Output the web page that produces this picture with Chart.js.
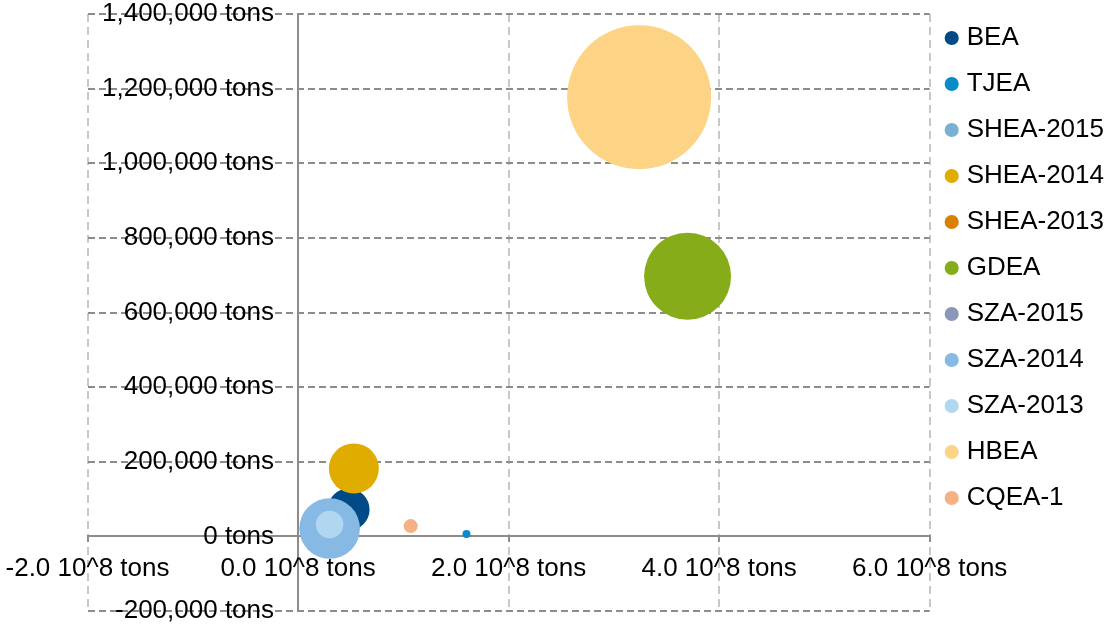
<!DOCTYPE html>
<html>
<head>
<meta charset="utf-8">
<script src="https://cdn.jsdelivr.net/npm/chart.js@4/dist/chart.umd.min.js"></script>
<style>
  html, body { margin: 0; padding: 0; background: #ffffff; }
  #wrap { width: 1108px; height: 624px; }
</style>
</head>
<body>
<div id="wrap"><canvas id="chart"></canvas></div>
<script>
// Series, in legend order
const seriesNames = ['BEA', 'TJEA', 'SHEA-2015', 'SHEA-2014', 'SHEA-2013', 'GDEA',
                     'SZA-2015', 'SZA-2014', 'SZA-2013', 'HBEA', 'CQEA-1'];
// x in 10^8 tons, y in tons; series without a value have no bubble
const xValues = [0.48, 1.6, null, 0.53, null, 3.7, null, 0.3, 0.3, 3.24, 1.07];
const yValues = [72000, 6200, null, 182000, null, 697000, null, 21000, 32000, 1177000, 27600];
// bubble size value (area)
const sizeValues = [441, 16, null, 625, null, 1892, null, 918, 188, 5184, 49];
const seriesColors = ['#004b87', '#0a8ac8', '#7bafd4', '#e0ac00', '#d98000', '#87ac1a',
                      '#8a97b8', '#86b9e3', '#b1d7f0', '#fdd385', '#f5b184'];

// axis ticks
const xTickValues = [-2, 0, 2, 4, 6];
const xTickLabels = ['-2.0 10^8 tons', '0.0 10^8 tons', '2.0 10^8 tons', '4.0 10^8 tons', '6.0 10^8 tons'];
const yTickValues = [-200000, 0, 200000, 400000, 600000, 800000, 1000000, 1200000, 1400000];
const yTickLabels = ['-200,000 tons', '0 tons', '200,000 tons', '400,000 tons', '600,000 tons',
                     '800,000 tons', '1,000,000 tons', '1,200,000 tons', '1,400,000 tons'];

// later series are painted on top of earlier ones
const datasets = seriesNames.map((name, i) => ({
  label: name,
  data: xValues[i] === null ? [] : [{ x: xValues[i], y: yValues[i], r: Math.sqrt(sizeValues[i]) }],
  backgroundColor: seriesColors[i],
  borderColor: seriesColors[i],
  borderWidth: 0,
  hoverBorderWidth: 0,
  order: seriesNames.length - i
}));

const AXIS_GREY = '#8c8c8c';
const isZero = (ctx) => ctx.tick && ctx.tick.value === 0;

Chart.defaults.font.family = '"Liberation Sans", Arial, Helvetica, sans-serif';
Chart.defaults.font.size = 26;
Chart.defaults.color = '#000000';

new Chart(document.getElementById('chart'), {
  type: 'bubble',
  data: { datasets },
  options: {
    responsive: true,
    maintainAspectRatio: false,
    animation: false,
    layout: { autoPadding: false, padding: { left: 0, top: 5, right: -6, bottom: 5 } },
    plugins: {
      tooltip: { enabled: false },
      legend: {
        position: 'right',
        align: 'start',
        fullSize: true,
        labels: {
          usePointStyle: true,
          pointStyle: 'circle',
          boxWidth: 4,
          boxHeight: 10,
          padding: 20,
          color: '#000000',
          font: { size: 26 },
          sort: (a, b) => a.datasetIndex - b.datasetIndex
        }
      }
    },
    scales: {
      x: {
        type: 'linear',
        position: { y: 0 },
        min: xTickValues[0],
        max: xTickValues[xTickValues.length - 1],
        afterBuildTicks: (scale) => { scale.ticks = xTickValues.map(v => ({ value: v })); },
        afterFit: (scale) => {
          scale.paddingLeft = 0; scale.paddingRight = 0;
          scale.paddingTop = 0; scale.paddingBottom = 0;
        },
        ticks: {
          padding: 12,
          maxRotation: 0,
          autoSkip: false,
          callback: (value) => xTickLabels[xTickValues.indexOf(value)]
        },
        // vertical grid: light dashed, solid axis line through x = 0, short tick marks below the axis
        grid: {
          drawTicks: true,
          tickLength: 5,
          tickWidth: 2,
          tickColor: AXIS_GREY,
          color: (ctx) => isZero(ctx) ? AXIS_GREY : '#c8c8c8',
          lineWidth: 2
        },
        border: {
          display: true,
          color: AXIS_GREY,
          width: 2,
          dash: (ctx) => isZero(ctx) ? [] : [8, 5]
        }
      },
      y: {
        type: 'linear',
        position: 'left',
        min: yTickValues[0],
        max: yTickValues[yTickValues.length - 1],
        afterBuildTicks: (scale) => { scale.ticks = yTickValues.map(v => ({ value: v })); },
        afterFit: (scale) => {
          scale.width = 87.5;
          scale.paddingTop = 14; scale.paddingBottom = 13;
          scale.paddingLeft = 0; scale.paddingRight = 0;
        },
        ticks: {
          // right-aligned labels drawn inside the plot, just left of the x = 0 axis line
          mirror: true,
          crossAlign: 'far',
          padding: 14.5,
          autoSkip: false,
          callback: (value) => yTickLabels[yTickValues.indexOf(value)]
        },
        grid: {
          drawTicks: false,
          color: AXIS_GREY,
          lineWidth: 2
        },
        border: {
          display: false,
          dash: [7, 4]
        }
      }
    }
  }
});
</script>
</body>
</html>
